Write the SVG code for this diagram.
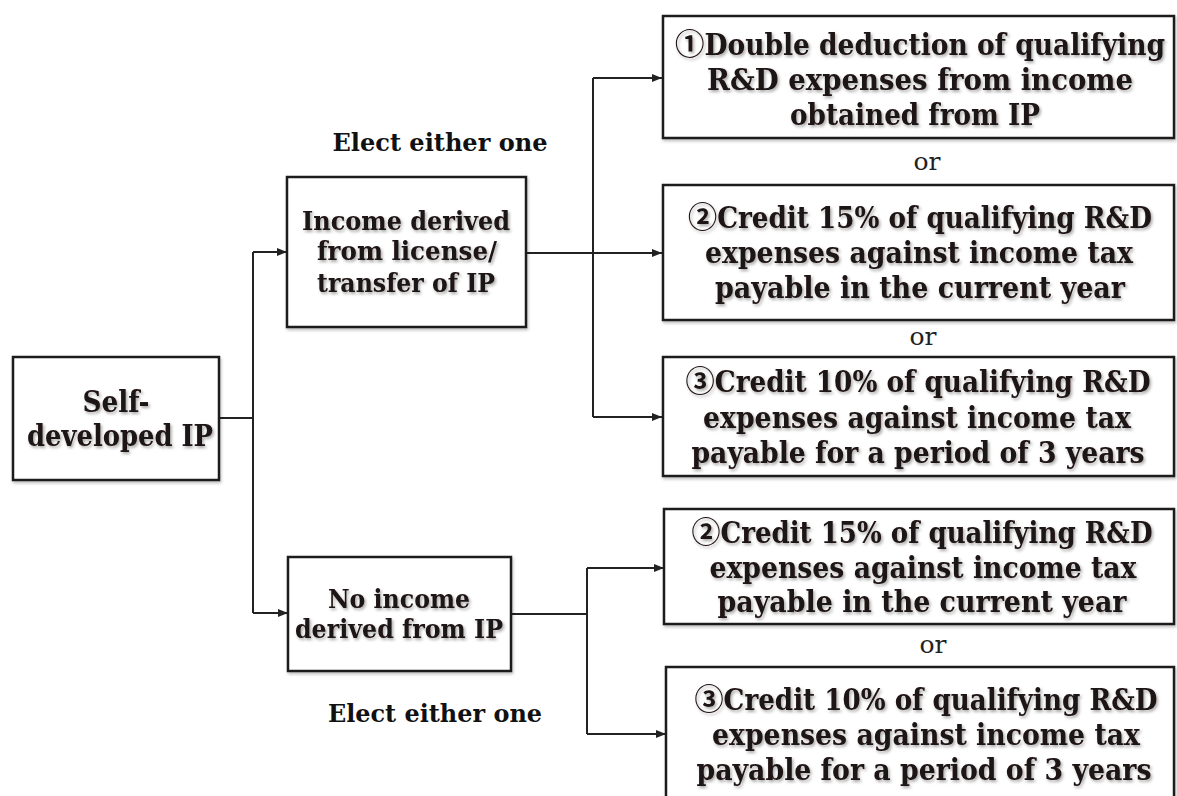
<svg xmlns="http://www.w3.org/2000/svg" width="1177" height="796" viewBox="0 0 1177 796">
<style>
.box{fill:#fff;stroke:#1e1a1a;stroke-width:2.5;filter:url(#bs)}
.t{font-family:"DejaVu Serif Condensed","DejaVu Serif","Liberation Serif","Noto Sans CJK SC",serif;font-weight:bold;fill:#1e1212;text-anchor:middle;filter:url(#ts)}
.big{font-size:29px}
.mid{font-size:26px}
.or{font-family:"DejaVu Serif","Liberation Serif",serif;font-size:25px;fill:#222;text-anchor:middle}
.el{font-family:"DejaVu Serif","Liberation Serif",serif;font-weight:bold;font-size:24px;fill:#111;text-anchor:middle}
.c{fill:none;stroke:#222;stroke-width:2}
</style>
<defs>
<filter id="ts" x="-30%" y="-80%" width="160%" height="260%"><feDropShadow dx="1.5" dy="2" stdDeviation="1.5" flood-color="#000" flood-opacity="0.35"/></filter>
<filter id="bs" x="-10%" y="-10%" width="120%" height="130%"><feDropShadow dx="1" dy="2" stdDeviation="1.5" flood-color="#000" flood-opacity="0.25"/></filter>
<marker id="ah" viewBox="0 0 10 10" refX="10" refY="5" markerWidth="10" markerHeight="10" markerUnits="userSpaceOnUse" orient="auto"><path d="M0,1 L10,5 L0,9 z" fill="#222"/></marker>
</defs>
<rect width="1177" height="796" fill="#fff"/>
<g id="connectors">
<path class="c" d="M219,418 H253"/>
<path class="c" d="M253,252 V613"/>
<path class="c" d="M253,252 H287" marker-end="url(#ah)"/>
<path class="c" d="M253,613 H288" marker-end="url(#ah)"/>
<path class="c" d="M526,253 H662" marker-end="url(#ah)"/>
<path class="c" d="M593,78 V417"/>
<path class="c" d="M593,78 H662" marker-end="url(#ah)"/>
<path class="c" d="M593,417 H662" marker-end="url(#ah)"/>
<path class="c" d="M511,614 H587"/>
<path class="c" d="M587,568 V734"/>
<path class="c" d="M587,568 H664" marker-end="url(#ah)"/>
<path class="c" d="M587,734 H666" marker-end="url(#ah)"/>
</g>
<g id="self">
<rect class="box" x="13" y="357" width="206" height="123"/>
<text class="t big" x="116" y="412" textLength="67" lengthAdjust="spacingAndGlyphs">Self-</text>
<text class="t big" x="120" y="446" textLength="186" lengthAdjust="spacingAndGlyphs">developed IP</text>
</g>
<g id="income">
<rect class="box" x="287" y="177" width="239" height="150"/>
<text class="t mid" x="406" y="230" textLength="208" lengthAdjust="spacingAndGlyphs">Income derived</text>
<text class="t mid" x="407" y="260" textLength="180" lengthAdjust="spacingAndGlyphs">from license/</text>
<text class="t mid" x="406" y="292" textLength="178" lengthAdjust="spacingAndGlyphs">transfer of IP</text>
</g>
<g id="noincome">
<rect class="box" x="288" y="557" width="223" height="114"/>
<text class="t mid" x="399" y="608" textLength="142" lengthAdjust="spacingAndGlyphs">No income</text>
<text class="t mid" x="399" y="638" textLength="208" lengthAdjust="spacingAndGlyphs">derived from IP</text>
</g>
<text class="el" x="440" y="151" textLength="215" lengthAdjust="spacingAndGlyphs">Elect either one</text>
<text class="el" x="435" y="722" textLength="214" lengthAdjust="spacingAndGlyphs">Elect either one</text>
<g id="opt1">
<rect class="box" x="663" y="16" width="511" height="122"/>
<text class="t big" x="920" y="55" textLength="490" lengthAdjust="spacingAndGlyphs">①Double deduction of qualifying</text>
<text class="t big" x="920" y="90" textLength="426" lengthAdjust="spacingAndGlyphs">R&amp;D expenses from  income</text>
<text class="t big" x="915" y="125" textLength="250" lengthAdjust="spacingAndGlyphs">obtained from IP</text>
</g>
<text class="or" x="927" y="170">or</text>
<g id="opt2">
<rect class="box" x="663" y="185" width="511" height="135"/>
<text class="t big" x="920" y="228" textLength="464" lengthAdjust="spacingAndGlyphs">②Credit 15% of qualifying R&amp;D</text>
<text class="t big" x="919" y="263" textLength="428" lengthAdjust="spacingAndGlyphs">expenses against income tax</text>
<text class="t big" x="920" y="298" textLength="410" lengthAdjust="spacingAndGlyphs">payable in the current year</text>
</g>
<text class="or" x="923" y="345">or</text>
<g id="opt3">
<rect class="box" x="663" y="357" width="511" height="119"/>
<text class="t big" x="918" y="392" textLength="465" lengthAdjust="spacingAndGlyphs">③Credit 10% of qualifying R&amp;D</text>
<text class="t big" x="917" y="428" textLength="428" lengthAdjust="spacingAndGlyphs">expenses against income tax</text>
<text class="t big" x="918" y="463" textLength="453" lengthAdjust="spacingAndGlyphs">payable for a period of 3 years</text>
</g>
<g id="opt2b">
<rect class="box" x="664" y="509" width="510" height="115"/>
<text class="t big" x="922" y="543" textLength="461" lengthAdjust="spacingAndGlyphs">②Credit 15% of qualifying R&amp;D</text>
<text class="t big" x="923" y="578" textLength="427" lengthAdjust="spacingAndGlyphs">expenses against income tax</text>
<text class="t big" x="922" y="612" textLength="409" lengthAdjust="spacingAndGlyphs">payable in the current year</text>
</g>
<text class="or" x="933" y="653">or</text>
<g id="opt3b">
<rect class="box" x="666" y="667" width="508" height="140"/>
<text class="t big" x="926" y="710" textLength="463" lengthAdjust="spacingAndGlyphs">③Credit 10% of qualifying R&amp;D</text>
<text class="t big" x="926" y="745" textLength="428" lengthAdjust="spacingAndGlyphs">expenses against income tax</text>
<text class="t big" x="924" y="780" textLength="455" lengthAdjust="spacingAndGlyphs">payable for a period of 3 years</text>
</g>
</svg>
